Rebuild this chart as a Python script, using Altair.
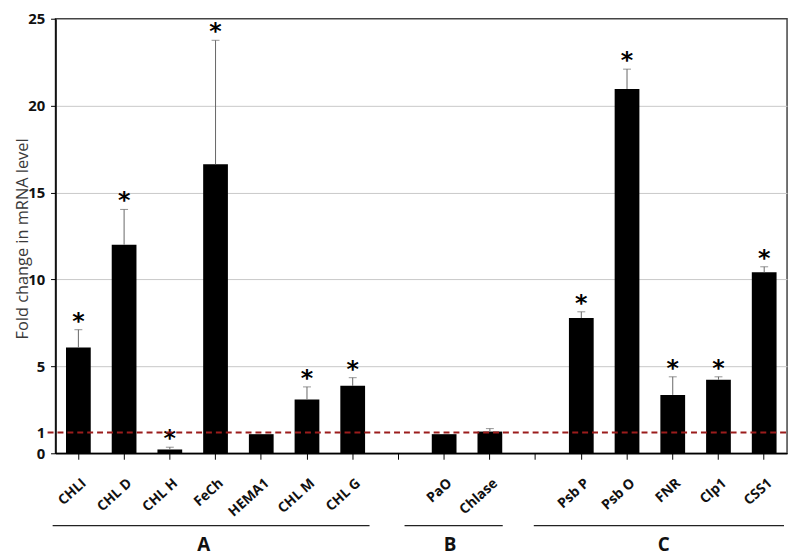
import altair as alt
import pandas as pd

# ---- data ----
genes = ["CHLI", "CHL D", "CHL H", "FeCh", "HEMA1", "CHL M", "CHL G",
         "gap1", "PaO", "Chlase", "gap2",
         "Psb P", "Psb O", "FNR", "Clp1", "CSS1"]
fold = [6.08, 12.0, 0.22, 16.63, 1.1, 3.1, 3.88,
        None, 1.1, 1.25, None,
        7.78, 20.96, 3.36, 4.23, 10.41]
err_top = [7.11, 14.03, 0.35, 23.76, 1.1, 3.82, 4.35,
           None, 1.1, 1.42, None,
           8.14, 22.1, 4.40, 4.40, 10.73]
signif = [True, True, True, True, False, True, True,
          False, False, False, False,
          True, True, True, True, True]
threshold = 1.2   # dashed reference line ("1") as drawn
y_ticks = [0, 1.2, 5, 10, 15, 20, 25]

groups = ["A", "B", "C"]
group_first = ["CHLI", "PaO", "Psb P"]
group_last = ["CHL G", "Chlase", "CSS1"]
group_label_at = ["FeCh", "PaO", "FNR"]

# ---- styles ----
FONT = "Open Sans"
TOP = 8
W, H = 739, 439
grp_style = [  # (x offset start, x offset end, label dx)
    (-26, 17, -12),
    (-40, 13, 6),
    (-48, 20, -9),
]

df = pd.DataFrame({"gene": genes, "fold": fold, "top": err_top, "sig": signif})
bars_df = df.dropna(subset=["fold"])
err_df = bars_df[bars_df["top"] > bars_df["fold"] + 0.01]
sig_df = bars_df[bars_df["sig"]]

xscale = alt.Scale(domain=genes, paddingInner=0.45, paddingOuter=0.225)
x_enc = alt.X("gene:N", scale=xscale, sort=genes,
              axis=alt.Axis(title=None, labelAngle=-42, labelFont=FONT,
                            labelFontWeight="bold", labelFontSize=14,
                            labelColor="#111", labelPadding=22, labelOffset=6,
                            labelExpr="indexof(datum.label, 'gap') == 0 ? '' : datum.label",
                            tickSize=6, tickColor="#000", domainColor="#000",
                            domainWidth=1.5, labelAlign="right",
                            labelBaseline="middle"))
yscale = alt.Scale(domain=[0, 25], nice=False)
y_enc = alt.Y("fold:Q", scale=yscale,
              axis=alt.Axis(values=y_ticks, title="Fold change in mRNA level",
                            labelExpr="datum.value == 1.2 ? '1' : datum.label",
                            labelFont=FONT, labelFontWeight="bold", labelFontSize=15,
                            labelColor="#111", labelPadding=6,
                            titleFont=FONT, titleFontWeight="normal", titleFontSize=16.5,
                            titleColor="#3a3a3a", titleX=-33, titleY=222,
                            titleAnchor="middle", titleBaseline="middle",
                            tickSize=5, tickColor="#000",
                            tickOpacity={"condition": {"test": "datum.value == 1.2", "value": 0}, "value": 1},
                            domainColor="#000", domainWidth=1.5,
                            grid=True, gridColor="#c8c8c8", gridWidth=1,
                            gridOpacity={"condition": {"test": "datum.value == 0 || datum.value == 1.2 || datum.value == 25", "value": 0}, "value": 1}))

base = alt.Chart(bars_df)

bars = base.mark_bar(color="#000", size=25).encode(x=x_enc, y=y_enc)

err_rule = alt.Chart(err_df).mark_rule(color="#666", strokeWidth=1).encode(
    x=alt.X("gene:N", scale=xscale, sort=genes), y="fold:Q", y2="top:Q")
err_cap = alt.Chart(err_df).mark_tick(color="#666", thickness=1, size=8, orient="horizontal").encode(
    x=alt.X("gene:N", scale=xscale, sort=genes), y=alt.Y("top:Q", scale=yscale))

stars = alt.Chart(sig_df).mark_text(text="*", font="DejaVu Sans", fontWeight="bold",
                                    fontSize=24, baseline="middle", dy=-8,
                                    color="#000").encode(
    x=alt.X("gene:N", scale=xscale, sort=genes), y=alt.Y("top:Q", scale=yscale))

ref = alt.Chart(pd.DataFrame({"t": [threshold]})).mark_rule(
    color="#9b1c1c", strokeDash=[6, 4], strokeWidth=2).encode(
    y=alt.Y("t:Q", scale=yscale), x=alt.value(-8), x2=alt.value(W))

layers = [bars, err_rule, err_cap, stars, ref]

for g, a, b, lab, (o1, o2, dx) in zip(groups, group_first, group_last, group_label_at, grp_style):
    gdf = pd.DataFrame({"g": [g], "a": [a], "b": [b], "lab": [lab]})
    r1 = alt.Chart(gdf).mark_rule(color="#222", strokeWidth=1.2, xOffset=o1, x2Offset=o2).encode(
        x=alt.X("a:N", scale=xscale, sort=genes), x2="b:N", y=alt.value(512))
    t1 = alt.Chart(gdf).mark_text(font=FONT, fontWeight="bold", fontSize=19, dx=dx,
                                  baseline="middle", color="#111").encode(
        x=alt.X("lab:N", scale=xscale, sort=genes), y=alt.value(532), text="g:N")
    layers += [r1, t1]

chart = alt.layer(*layers).properties(
    width=W, height=H,
    autosize=alt.AutoSizeParams(type="none"),
    padding={"left": 48, "top": TOP, "right": 5, "bottom": 110},
).configure_view(stroke="#444", strokeWidth=1.5)

chart.save("out.html", embed_options={"renderer": "svg", "actions": False})
